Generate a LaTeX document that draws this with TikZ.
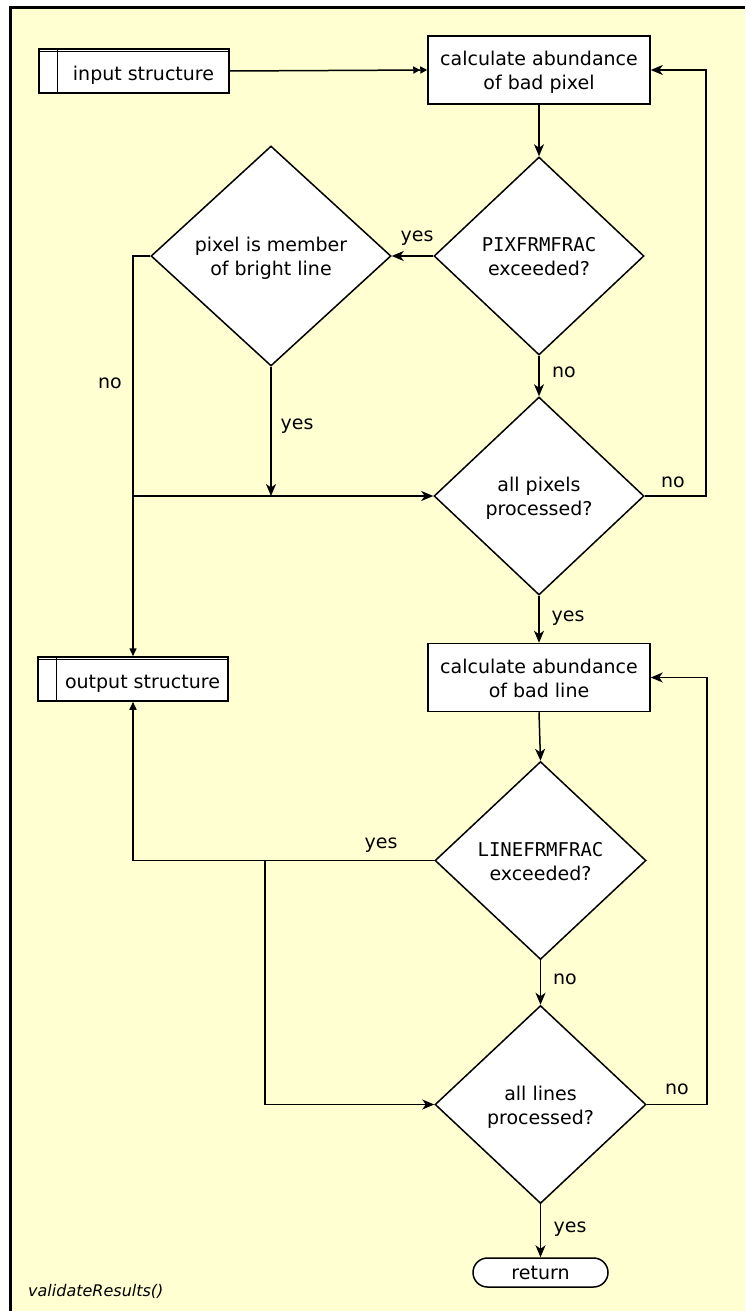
\documentclass[tikz,border=0pt]{standalone}
\usepackage{fontspec}
\setmainfont{DejaVu Sans}
\setmonofont{DejaVu Sans Mono}
\usetikzlibrary{shapes.geometric,arrows.meta,calc}
\definecolor{bgyellow}{HTML}{FFFFD2}
\newcommand{\tst}{\rule[-0.236em]{0pt}{1.164em}}
\newcommand{\bst}{\rule[-0.236em]{0pt}{1.48em}}
\newcommand{\mst}{\rule{0pt}{1.05em}}
\begin{document}
\begin{tikzpicture}[x=1pt,y=-1pt,
  every node/.style={font=\fontsize{19}{24}\selectfont,execute at begin node={\tst},execute at end node={\tst}},
  base/.style={draw=black,fill=white,line width=1.5pt},
  procbox/.style={base,rectangle,minimum width=222pt,minimum height=68pt,align=center,inner sep=0pt},
  dec/.style={base,diamond,minimum width=210pt,minimum height=198pt,align=center,inner sep=0pt},
  databox/.style={base,rectangle,minimum width=190pt,minimum height=44pt,inner sep=0pt,execute at begin node={\bst}},
  termbox/.style={base,rectangle,rounded corners=14.5pt,minimum width=135pt,minimum height=29pt,inner sep=0pt},
  lbl/.style={inner sep=0pt},
  conn/.style={line width=1.5pt},
  arr/.style={conn,-{Stealth[length=12pt,width=10pt,inset=3.5pt]}},
  arrs/.style={conn,-{Triangle[length=8pt,width=7pt]}},
  arrd/.style={conn,-{Triangle[length=7pt,width=7pt]Triangle[length=7pt,width=7pt]}},
]
\useasboundingbox (0,0) rectangle (745,1311);
\fill[white] (0,0) rectangle (745,1311);
\fill[bgyellow] (10,8) rectangle (745,1311);
\draw[line width=3pt] (10,1311) -- (10,8) -- (745,8);

% nodes
\node[databox] (in) at (134,71) {\hspace*{19pt}input structure};
\draw[line width=1.5pt] ($(in.north west)+(19,0)$) -- ($(in.south west)+(19,0)$);
\draw[line width=1.2pt] ($(in.north west)+(0,3.5)$) -- ($(in.north east)+(0,3.5)$);

\node[procbox] (b1) at (539,70) {\mst calculate abundance\\of bad pixel};
\node[dec] (d1) at (539,256) {\mst\texttt{PIXFRMFRAC}\\exceeded?};
\node[dec,minimum width=240pt,minimum height=220pt] (d2) at (271,256) {\mst pixel is member\\of bright line};
\node[dec] (d3) at (539,496) {\mst all pixels\\processed?};

\node[databox] (outp) at (133,679) {\hspace*{19pt}output structure};
\draw[line width=1.5pt] ($(outp.north west)+(19,0)$) -- ($(outp.south west)+(19,0)$);
\draw[line width=1.2pt] ($(outp.north west)+(0,3.5)$) -- ($(outp.north east)+(0,3.5)$);

\node[procbox] (b2) at (539,677.5) {\mst calculate abundance\\of bad line};
\node[dec,minimum width=211pt] (d4) at (540.5,860.5) {\mst\texttt{LINEFRMFRAC}\\exceeded?};
\node[dec,minimum width=211pt] (d5) at (540.5,1104.5) {\mst all lines\\processed?};
\node[termbox] (ret) at (540.5,1272.5) {return};

\node[lbl,anchor=west,font=\fontsize{16}{19}\selectfont\itshape] (title) at (28,1291) {validateResults()};

% helper coordinates
\coordinate (r1) at (706,0);
\coordinate (r2) at (707,0);
\coordinate (j1) at (outp.north |- d3.west);
\coordinate (j2) at (265,860.5);

% connectors
\draw[arrd] (in.east) -- (b1.west);
\draw[arr] (b1.south) -- (d1.north);
\draw[arr] (d1.west) -- (d2.east);
\draw[arr] (d1.south) -- (d3.north);
\draw[arr] (d3.east) -- (d3.east -| r1) |- (b1.east);
\draw[arr] (d2.south) -- (d2.south |- d3.west);
\draw[arrs] (d2.west) -- (d2.west -| outp.north) -- (outp.north);
\draw[arr] (j1) -- (d3.west);
\draw[arr] (d3.south) -- (b2.north);
\draw[arr] (b2.south) -- (d4.north);
\draw[arrs] (d4.west) -| (outp.south);
\draw[arr] (j2) |- (d5.west);
\draw[arr] (d4.south) -- (d5.north);
\draw[arr] (d5.east) -- (d5.east -| r2) |- (b2.east);
\draw[arr] (d5.south) -- (ret.north);

% labels
\node[lbl] (l1) at (417,235) {yes};
\node[lbl] (l2) at (564,371) {no};
\node[lbl] (l3) at (673,481) {no};
\node[lbl] (l4) at (297,423) {yes};
\node[lbl] (l5) at (110,382) {no};
\node[lbl] (l6) at (568,615) {yes};
\node[lbl] (l7) at (381,842) {yes};
\node[lbl] (l8) at (565,978) {no};
\node[lbl] (l9) at (677,1088) {no};
\node[lbl] (l10) at (570,1226) {yes};
\end{tikzpicture}
\end{document}
